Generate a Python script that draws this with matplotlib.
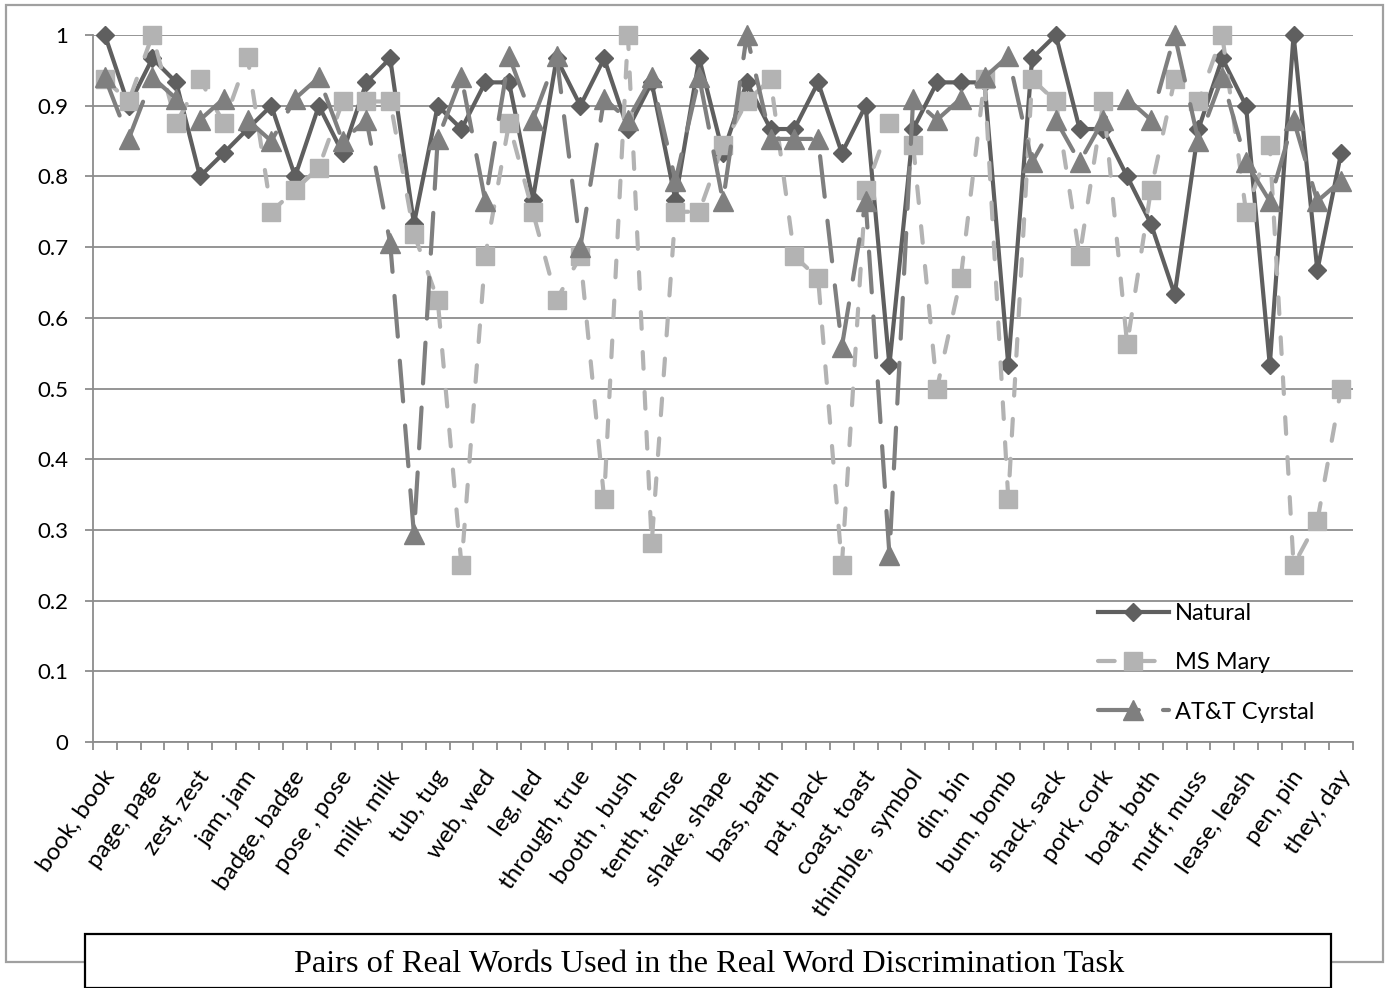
import matplotlib
matplotlib.use("Agg")
import matplotlib.pyplot as plt
from matplotlib.patches import Rectangle
import matplotlib.transforms as mtransforms
import numpy as np

# ---------------- data ----------------
categories = [
    "book, book", "", "page, page", "", "zest, zest", "", "jam, jam", "",
    "badge, badge", "", "pose , pose", "", "milk, milk", "", "tub, tug", "",
    "web, wed", "", "leg, led", "", "through, true", "", "booth , bush", "",
    "tenth, tense", "", "shake, shape", "", "bass, bath", "", "pat, pack", "",
    "coast, toast", "", "thimble,  symbol", "", "din, bin", "", "bum, bomb", "",
    "shack, sack", "", "pork, cork", "", "boat, both", "", "muff, muss", "",
    "lease, leash", "", "pen, pin", "", "they, day",
]

natural = [1.0, 0.9, 0.967, 0.933, 0.8, 0.833, 0.867, 0.9, 0.8, 0.9,
           0.833, 0.933, 0.967, 0.733, 0.9, 0.867, 0.933, 0.933, 0.767, 0.967,
           0.9, 0.967, 0.867, 0.933, 0.767, 0.967, 0.833, 0.933, 0.867, 0.867,
           0.933, 0.833, 0.9, 0.533, 0.867, 0.933, 0.933, 0.933, 0.533, 0.967,
           1.0, 0.867, 0.867, 0.8, 0.733, 0.633, 0.867, 0.967, 0.9, 0.533,
           1.0, 0.667, 0.833]

ms_mary = [0.9375, 0.906, 1.0, 0.875, 0.9375, 0.875, 0.969, 0.75, 0.781, 0.8125,
           0.906, 0.906, 0.906, 0.719, 0.625, 0.25, 0.6875, 0.875, 0.75, 0.625,
           0.6875, 0.344, 1.0, 0.281, 0.75, 0.75, 0.844, 0.906, 0.9375, 0.6875,
           0.656, 0.25, 0.781, 0.875, 0.844, 0.5, 0.656, 0.9375, 0.344, 0.9375,
           0.906, 0.6875, 0.906, 0.5625, 0.781, 0.9375, 0.906, 1.0, 0.75, 0.844,
           0.25, 0.3125, 0.5]

att_crystal = [0.94, 0.853, 0.94, 0.91, 0.88, 0.91, 0.88, 0.85, 0.91, 0.94,
               0.85, 0.88, 0.706, 0.294, 0.853, 0.94, 0.765, 0.97, 0.88, 0.97,
               0.70, 0.91, 0.88, 0.94, 0.794, 0.94, 0.765, 1.0, 0.853, 0.853,
               0.853, 0.559, 0.765, 0.265, 0.91, 0.88, 0.91, 0.94, 0.97, 0.82,
               0.88, 0.82, 0.88, 0.91, 0.88, 1.0, 0.85, 0.94, 0.82, 0.765,
               0.88, 0.765, 0.794]

series_names = ["Natural", "MS Mary", "AT&T Cyrstal"]
yticks = [0, 0.1, 0.2, 0.3, 0.4, 0.5, 0.6, 0.7, 0.8, 0.9, 1]
ytick_labels = ["0", "0.1", "0.2", "0.3", "0.4", "0.5", "0.6", "0.7", "0.8", "0.9", "1"]
title_text = "Pairs of Real Words Used in the Real Word Discrimination Task"

# ---------------- figure ----------------
W, H = 1390, 988
DPI = 100
fig = plt.figure(figsize=(W / DPI, H / DPI), dpi=DPI)
fig.patch.set_facecolor("white")

plt.rcParams["font.family"] = ["Lato", "DejaVu Sans"]

def px2fig(x0, y0, w, h):
    return [x0 / W, (H - y0 - h) / H, w / W, h / H]

# outer chart border
fig.patches.append(Rectangle((6 / W, 1 - 962 / H), (1383 - 6) / W, (962 - 5) / H,
                             transform=fig.transFigure, fill=False,
                             edgecolor="#a0a0a0", linewidth=1.6, zorder=0))

ax = fig.add_axes(px2fig(93, 35, 1260, 707))
ax.set_facecolor("none")

n = len(natural)
x = np.arange(n)

grid_c = "#8c8c8c"
for yv in yticks:
    ax.axhline(yv, color=grid_c, linewidth=1.3, zorder=1)

lw = 3.0
c_nat, c_ms, c_att = "#5f5f5f", "#b3b3b3", "#7f7f7f"

l1, = ax.plot(x, natural, color=c_nat, linewidth=lw, marker="D", markersize=9.3,
              markerfacecolor=c_nat, markeredgecolor=c_nat, zorder=3, clip_on=False,
              solid_joinstyle="round", label=series_names[0])
l2, = ax.plot(x, ms_mary, color=c_ms, linewidth=lw, marker="s", markersize=13.5,
              markerfacecolor=c_ms, markeredgecolor=c_ms, zorder=4, clip_on=False,
              dashes=(4.0, 5.6), dash_capstyle="round", label=series_names[1])
l3, = ax.plot(x, att_crystal, color=c_att, linewidth=lw, marker="^", markersize=14,
              markerfacecolor=c_att, markeredgecolor=c_att, zorder=5, clip_on=False,
              dashes=(9.8, 5.8), dash_capstyle="round", label=series_names[2])

ax.set_xlim(-0.5, n - 0.5)
ax.set_ylim(0, 1)

for s in ["top", "right"]:
    ax.spines[s].set_visible(False)
for s in ["left", "bottom"]:
    ax.spines[s].set_color(grid_c)
    ax.spines[s].set_linewidth(1.3)

ax.set_yticks(yticks)
ax.set_yticklabels(ytick_labels)
ax.tick_params(axis="y", direction="out", length=5.8, width=1.3, color=grid_c,
               pad=12, labelsize=16, labelcolor="black")

major = [i for i in range(n) if categories[i]]
ax.set_xticks(major)
ax.set_xticklabels([categories[i] for i in major], rotation=55, ha="right",
                   va="center", rotation_mode="anchor", fontsize=17.5)
ax.set_xticks(np.arange(-0.5, n, 1.0), minor=True)
ax.tick_params(axis="x", which="major", length=0, pad=22)
ax.tick_params(axis="x", which="minor", direction="out", length=5.8, width=1.3,
               color=grid_c)
offset = mtransforms.ScaledTranslation(5 / DPI, 0, fig.dpi_scale_trans)
for lab in ax.get_xticklabels():
    lab.set_transform(lab.get_transform() + offset)

# legend
leg = ax.legend(handles=[l1, l2, l3], loc="upper left",
                bbox_to_anchor=(1098 / W, 1 - 603 / H), bbox_transform=fig.transFigure,
                frameon=False, fontsize=17, handlelength=3.0, handletextpad=0.25,
                labelspacing=1.2, borderpad=0, borderaxespad=0)

# title box
fig.patches.append(Rectangle((85 / W, 0), (1331 - 85) / W, 1 - 934 / H,
                             transform=fig.transFigure, facecolor="white",
                             edgecolor="black", linewidth=1.6, zorder=10))
fig.text(709 / W, 1 - 964 / H, title_text, ha="center", va="center",
         fontsize=23.3, family=["Liberation Serif", "DejaVu Serif"], zorder=11)

fig.savefig("out.png", dpi=DPI, facecolor="white")
